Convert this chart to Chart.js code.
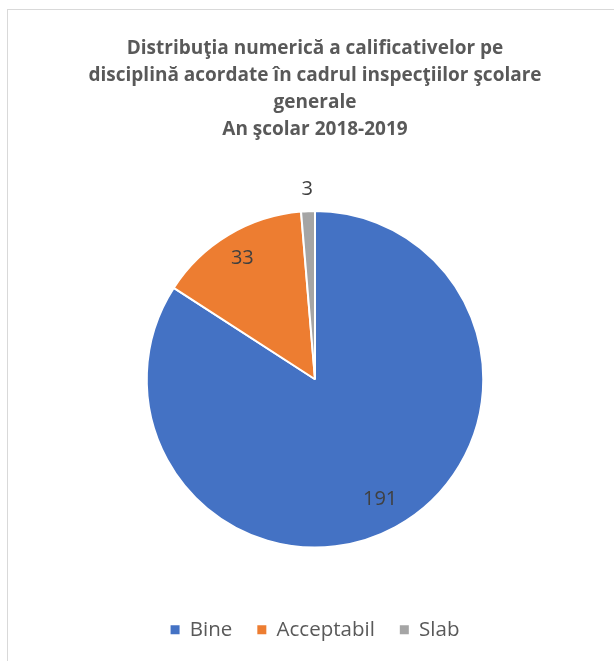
<!DOCTYPE html>
<html>
<head>
<meta charset="utf-8">
<script src="https://cdn.jsdelivr.net/npm/chart.js@4"></script>
<style>
  html, body { margin: 0; padding: 0; background: #fff; }
  #frame {
    position: absolute; left: 7px; top: 9px; right: -5px; bottom: -5px;
    border: 1px solid #d9d9d9;
  }
  #wrap { position: absolute; left: 0; top: 0; width: 614px; height: 661px; }
</style>
</head>
<body>
<div id="frame"></div>
<div id="wrap"><canvas id="pieChart"></canvas></div>
<script>
const categories = ["Bine", "Acceptabil", "Slab"];
const values = [191, 33, 3];
const colors = ["#4472C4", "#ED7D31", "#A5A5A5"];
const titleLines = [
    "Distribuţia numerică a calificativelor pe",
    "disciplină acordate în cadrul inspecţiilor şcolare",
    "generale",
    "An şcolar 2018-2019"
];

// where each value label sits, as a share of the radius
const labelRadius = [0.81, 0.84, 1.13];

const valueLabels = {
    id: "valueLabels",
    afterDatasetsDraw(chart) {
        const ctx = chart.ctx;
        const meta = chart.getDatasetMeta(0);
        ctx.save();
        ctx.font = "20px 'Open Sans'";
        ctx.fillStyle = "#404040";
        ctx.textAlign = "center";
        ctx.textBaseline = "middle";
        meta.data.forEach((arc, i) => {
            const mid = (arc.startAngle + arc.endAngle) / 2;
            const r = arc.outerRadius * labelRadius[i];
            ctx.fillText(
                String(values[i]),
                arc.x + Math.cos(mid) * r,
                arc.y + Math.sin(mid) * r
            );
        });
        ctx.restore();
    }
};

const ctx = document.getElementById("pieChart");

new Chart(ctx, {
    type: "pie",
    data: {
        labels: categories,
        datasets: [
            {
                data: values,
                backgroundColor: colors,
                borderColor: "#ffffff",
                borderWidth: 2
            }
        ]
    },
    options: {
        responsive: true,
        maintainAspectRatio: false,
        animation: false,
        layout: {
            padding: { left: 28, right: 12, top: 0, bottom: 11 }
        },
        plugins: {
            title: {
                display: true,
                text: titleLines,
                color: "#595959",
                font: { family: "Open Sans", size: 19, weight: "bold", lineHeight: "27px" },
                padding: { top: 35, bottom: 67 }
            },
            legend: {
                position: "bottom",
                title: {
                    display: true,
                    text: "",
                    font: { size: 10, lineHeight: 1 },
                    padding: { top: 36, bottom: 0 }
                },
                labels: {
                    color: "#595959",
                    font: { family: "Open Sans", size: 20.5 },
                    boxWidth: 9,
                    boxHeight: 9,
                    padding: 25,
                    generateLabels(chart) {
                        const items = Chart.overrides.pie.plugins.legend.labels.generateLabels(chart);
                        items.forEach(it => { it.lineWidth = 0; });
                        return items;
                    }
                }
            },
            tooltip: { enabled: false }
        }
    },
    plugins: [valueLabels]
});
</script>
</body>
</html>
